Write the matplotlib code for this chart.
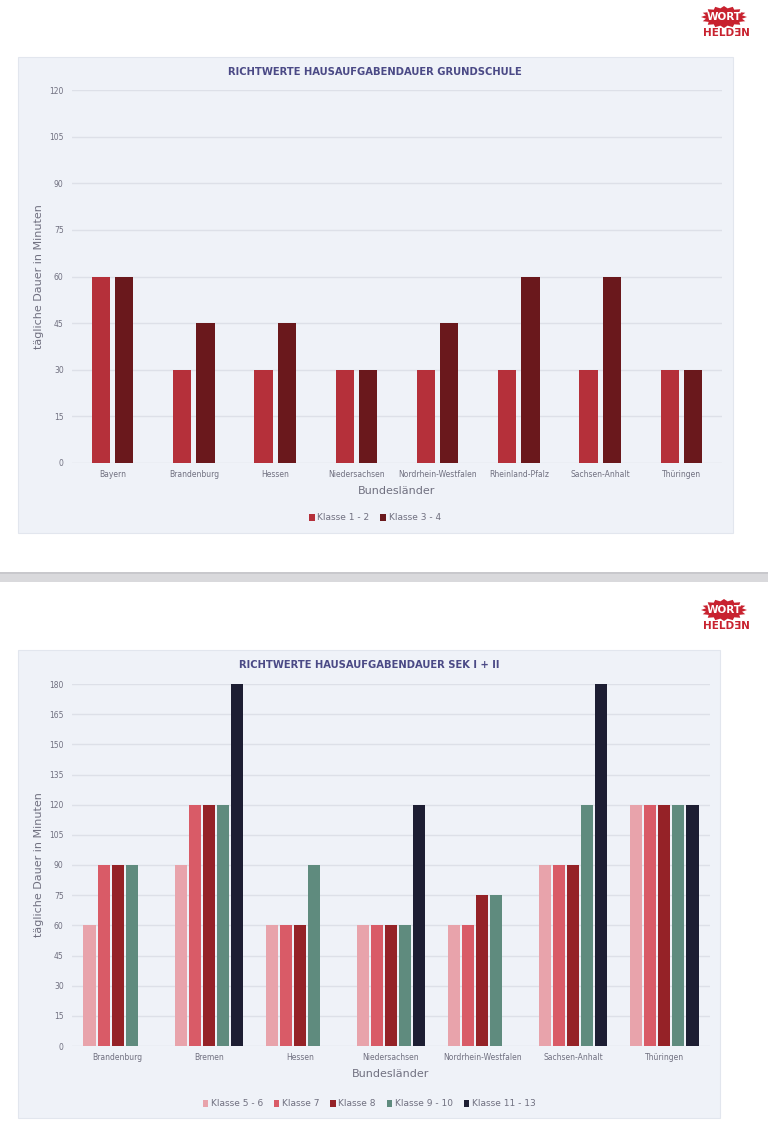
import numpy as np
import matplotlib
matplotlib.use("Agg")
import matplotlib.pyplot as plt
from matplotlib.patches import Rectangle, Polygon

# ---- data: Grundschule ----
gs_laender = ["Bayern", "Brandenburg", "Hessen", "Niedersachsen",
              "Nordrhein-Westfalen", "Rheinland-Pfalz", "Sachsen-Anhalt", "Thüringen"]
gs_klasse_1_2 = [60, 30, 30, 30, 30, 30, 30, 30]
gs_klasse_3_4 = [60, 45, 45, 30, 45, 60, 60, 30]
gs_series = ["Klasse 1 - 2", "Klasse 3 - 4"]

# ---- data: Sek I + II ----
sek_laender = ["Brandenburg", "Bremen", "Hessen", "Niedersachsen",
               "Nordrhein-Westfalen", "Sachsen-Anhalt", "Thüringen"]
sek_5_6 = [60, 90, 60, 60, 60, 90, 120]
sek_7 = [90, 120, 60, 60, 60, 90, 120]
sek_8 = [90, 120, 60, 60, 75, 90, 120]
sek_9_10 = [90, 120, 90, 60, 75, 120, 120]
sek_11_13 = [0, 180, 0, 120, 0, 180, 120]
sek_series = ["Klasse 5 - 6", "Klasse 7", "Klasse 8", "Klasse 9 - 10", "Klasse 11 - 13"]

W, H = 768, 1135
fig = plt.figure(figsize=(W / 100, H / 100), dpi=100)
fig.patch.set_facecolor("white")

PANEL = "#eff2f8"
TITLE_C = "#4b4a86"
TICK_C = "#707080"
GRID_C = "#dde0e8"


def px_axes(x0, y_top, x1, y_bot):
    ax = fig.add_axes([x0 / W, 1 - y_bot / H, (x1 - x0) / W, (y_bot - y_top) / H])
    ax.set_zorder(3)
    return ax


def panel(x0, y0, x1, y1):
    fig.patches.append(Rectangle((x0 / W, 1 - y1 / H), (x1 - x0) / W, (y1 - y0) / H,
                                 transform=fig.transFigure, facecolor=PANEL,
                                 edgecolor="#e2e6ee", linewidth=0.8, zorder=-1))


def logo(xc, yc):
    # red starburst with "WORT", and "HELDƎN" below
    n = 16
    ang = np.linspace(0, 2 * np.pi, 2 * n, endpoint=False)
    r = np.where(np.arange(2 * n) % 2 == 0, 1.0, 0.8)
    xs = xc + 23 * r * np.cos(ang)
    ys = yc - 6 + 11 * r * np.sin(ang)
    pts = [(x / W, 1 - y / H) for x, y in zip(xs, ys)]
    fig.patches.append(Polygon(pts, closed=True, transform=fig.transFigure,
                               facecolor="#c8222f", edgecolor="none", zorder=5))
    fig.text(xc / W, 1 - (yc - 6) / H, "WORT", color="white", fontsize=7.5,
             fontweight="heavy", ha="center", va="center", zorder=6)
    fig.text((xc + 2) / W, 1 - (yc + 10) / H, "HELDƎN", color="#c8222f", fontsize=7.5,
             fontweight="heavy", ha="center", va="center", zorder=6)


def style_axes(ax, ymax, step, labels):
    ax.set_facecolor("none")
    ax.set_ylim(0, ymax)
    ax.set_yticks(np.arange(0, ymax + 1, step))
    ax.grid(axis="y", color=GRID_C, linewidth=1)
    ax.set_axisbelow(True)
    for s in ax.spines.values():
        s.set_visible(False)
    ax.tick_params(axis="both", length=0, colors=TICK_C, labelsize=5.5)
    ax.tick_params(axis="y", pad=6)
    ax.tick_params(axis="x", pad=5)
    ax.set_xticks(np.arange(len(labels)))
    ax.set_xticklabels(labels)
    ax.set_xlim(-0.5, len(labels) - 0.5)
    ax.set_ylabel("tägliche Dauer in Minuten", color=TICK_C, fontsize=8, labelpad=4)
    ax.set_xlabel("Bundesländer", color=TICK_C, fontsize=8, labelpad=5)


# ---------- top chart ----------
panel(18, 57, 733, 533)
logo(724, 23)
fig.text(375 / W, 1 - 72 / H, "RICHTWERTE HAUSAUFGABENDAUER GRUNDSCHULE",
         color=TITLE_C, fontsize=8, fontweight="heavy", ha="center", va="center",
         fontstretch="condensed")

ax1 = px_axes(72, 90, 722, 463)
x = np.arange(len(gs_laender))
gs_colors = ["#b5303a", "#6a181c"]
bw = 0.225
for i, (vals, c, lab) in enumerate(zip([gs_klasse_1_2, gs_klasse_3_4], gs_colors, gs_series)):
    ax1.bar(x + (i - 0.5) * 0.285, vals, width=bw, color=c, label=lab, zorder=3)
style_axes(ax1, 120, 15, gs_laender)
ax1.legend(loc="center", bbox_to_anchor=(375 / W, 1 - 518 / H), bbox_transform=fig.transFigure,
           ncol=2, frameon=False, fontsize=6.5, handlelength=0.6, handleheight=0.8,
           handletextpad=0.3, columnspacing=1.2, labelcolor=TICK_C)

# ---------- separator ----------
fig.patches.append(Rectangle((0, 1 - 582 / H), 1, 10 / H, transform=fig.transFigure,
                             facecolor="#d9d9dc", edgecolor="none", zorder=1))
fig.patches.append(Rectangle((0, 1 - 574 / H), 1, 2 / H, transform=fig.transFigure,
                             facecolor="#c8c8cc", edgecolor="none", zorder=1))

# ---------- bottom chart ----------
panel(18, 650, 720, 1118)
logo(724, 616)
fig.text(369 / W, 1 - 665 / H, "RICHTWERTE HAUSAUFGABENDAUER SEK I + II",
         color=TITLE_C, fontsize=8, fontweight="heavy", ha="center", va="center",
         fontstretch="condensed")

ax2 = px_axes(72, 684, 710, 1046)
x2 = np.arange(len(sek_laender))
sek_colors = ["#e8a3ab", "#d95b67", "#952227", "#5f8b7e", "#1d1e33"]
sek_vals = [sek_5_6, sek_7, sek_8, sek_9_10, sek_11_13]
pitch = 0.154
for i, (vals, c, lab) in enumerate(zip(sek_vals, sek_colors, sek_series)):
    ax2.bar(x2 + (i - 2) * pitch, vals, width=0.132, color=c, label=lab, zorder=3)
style_axes(ax2, 180, 15, sek_laender)
ax2.legend(loc="center", bbox_to_anchor=(369 / W, 1 - 1104 / H), bbox_transform=fig.transFigure,
           ncol=5, frameon=False, fontsize=6.5, handlelength=0.6, handleheight=0.8,
           handletextpad=0.3, columnspacing=1.2, labelcolor=TICK_C)

fig.savefig("out.png", dpi=100, facecolor="white")
